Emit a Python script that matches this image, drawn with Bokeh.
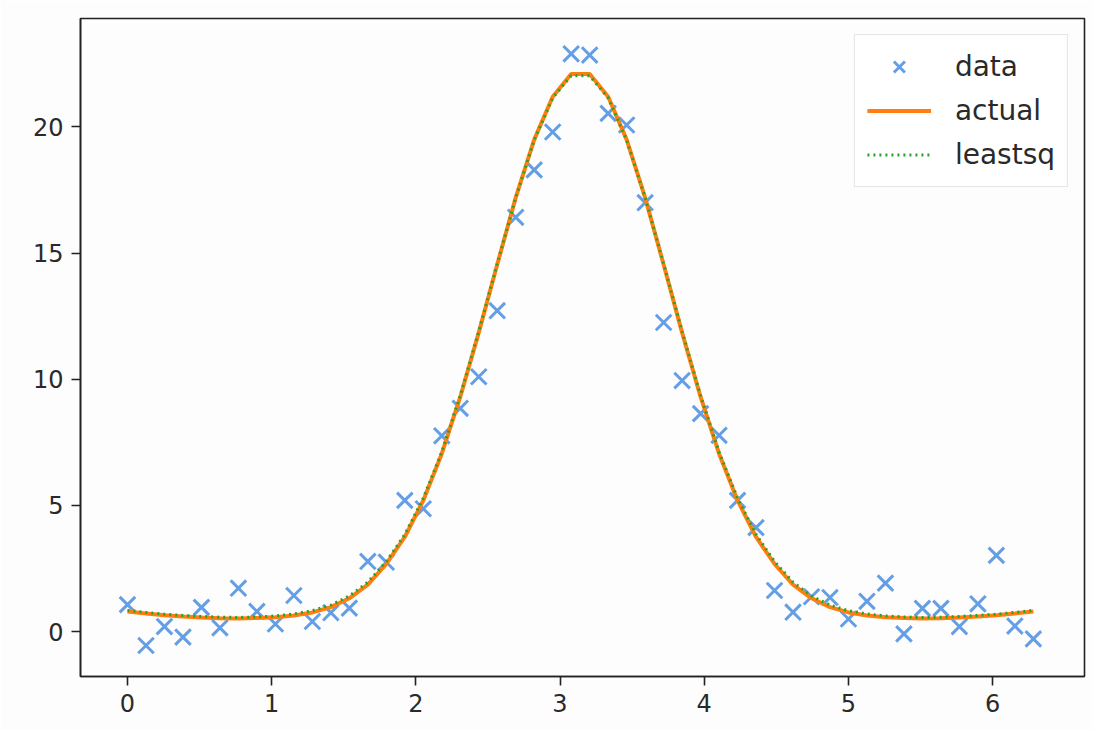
import numpy as np
from bokeh.plotting import figure
from bokeh.models import FixedTicker, Range1d, Legend, LegendItem
from bokeh.embed import file_html
from bokeh.resources import INLINE

n_points = 50
x_start = 0.0
x_end = 2 * np.pi

data_y = [1.07, -0.55, 0.20, -0.22, 0.96, 0.15, 1.72, 0.80, 0.30, 1.43,
          0.40, 0.75, 0.93, 2.78, 2.75, 5.20, 4.87, 7.76, 8.85, 10.10,
          12.72, 16.42, 18.30, 19.80, 22.90, 22.85, 20.54, 20.08, 17.00, 12.25,
          9.95, 8.64, 7.78, 5.20, 4.12, 1.63, 0.77, 1.38, 1.35, 0.50,
          1.20, 1.92, -0.09, 0.92, 0.92, 0.20, 1.10, 3.02, 0.22, -0.29]

actual_y = [0.80, 0.72, 0.65, 0.60, 0.56, 0.53, 0.52, 0.54, 0.57, 0.64,
            0.76, 0.97, 1.32, 1.86, 2.68, 3.75, 5.20, 7.05, 9.30, 11.85,
            14.55, 17.20, 19.50, 21.20, 22.10, 22.10, 21.20, 19.50, 17.20, 14.55,
            11.85, 9.30, 7.05, 5.20, 3.75, 2.68, 1.86, 1.32, 0.97, 0.76,
            0.64, 0.57, 0.54, 0.52, 0.53, 0.56, 0.60, 0.65, 0.72, 0.80]

leastsq_y = [0.84, 0.76, 0.69, 0.64, 0.60, 0.57, 0.56, 0.58, 0.62, 0.70,
             0.83, 1.05, 1.41, 1.96, 2.78, 3.85, 5.29, 7.12, 9.36, 11.90,
             14.58, 17.20, 19.48, 21.15, 22.03, 22.03, 21.15, 19.48, 17.20, 14.58,
             11.90, 9.36, 7.12, 5.29, 3.85, 2.78, 1.96, 1.41, 1.05, 0.83,
             0.70, 0.62, 0.58, 0.56, 0.57, 0.60, 0.64, 0.69, 0.76, 0.84]

x_ticks = [0, 1, 2, 3, 4, 5, 6]
y_ticks = [0, 5, 10, 15, 20]

x = list(np.linspace(x_start, x_end, n_points))

FONT = "DejaVu Sans"

p = figure(width=1092, height=730, output_backend="svg", toolbar_location=None,
           x_range=Range1d(-0.326, 6.638), y_range=Range1d(-1.78, 24.3),
           min_border_left=80, min_border_right=8, min_border_top=18, min_border_bottom=54)

p.background_fill_color = "#fdfdfd"
p.border_fill_color = "#fdfdfd"
p.outline_line_color = "#222222"
p.outline_line_width = 1.6
p.grid.visible = False

for ax in (p.xaxis, p.yaxis):
    ax.axis_line_color = "#222222"
    ax.axis_line_width = 1.6
    ax.major_tick_line_color = "#222222"
    ax.major_tick_line_width = 1.6
    ax.major_tick_out = 9
    ax.major_tick_in = 0
    ax.minor_tick_line_color = None
    ax.major_label_text_font = FONT
    ax.major_label_text_font_size = "24px"
    ax.major_label_text_color = "#2a2a2a"
    ax.major_label_standoff = 8

p.xaxis.ticker = FixedTicker(ticks=x_ticks)
p.yaxis.ticker = FixedTicker(ticks=y_ticks)

r_data = p.scatter(x, data_y, marker="x", size=22, line_width=3,
                   line_color="#3d87e0", line_alpha=0.8)
r_actual = p.line(x, actual_y, line_color="#ff7f0e", line_width=4)
r_lsq = p.line(x, leastsq_y, line_color="#2ca02c", line_width=3, line_dash="2 4")

legend = Legend(items=[LegendItem(label="data", renderers=[r_data]),
                       LegendItem(label="actual", renderers=[r_actual]),
                       LegendItem(label="leastsq", renderers=[r_lsq])],
                location="top_right")
legend.margin = 16
legend.padding = 12
legend.spacing = 5
legend.glyph_width = 64
legend.glyph_height = 39
legend.label_height = 39
legend.label_standoff = 24
legend.label_text_font = FONT
legend.label_text_font_size = "28px"
legend.label_text_color = "#2a2a2a"
legend.border_line_color = "#cccccc"
legend.border_line_width = 1.5
legend.background_fill_color = "white"
legend.background_fill_alpha = 0.9
p.add_layout(legend, "center")

open("out.html", "w").write(file_html(p, INLINE))
